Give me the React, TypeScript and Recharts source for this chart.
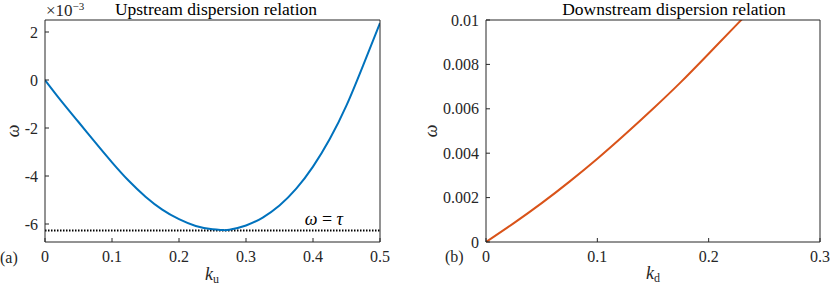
import React from "react";
import { LineChart, Line, XAxis, YAxis, ReferenceLine } from "recharts";

// upstream branch, omega in units of 1e-3
const kUp = [0, 0.025, 0.05, 0.075, 0.1, 0.125, 0.15, 0.175, 0.2, 0.225, 0.25, 0.265, 0.275, 0.3, 0.325, 0.35, 0.375, 0.4, 0.425, 0.45, 0.475, 0.5];
const omegaUp = [0, -0.9, -1.75, -2.6, -3.43, -4.2, -4.86, -5.4, -5.8, -6.08, -6.22, -6.25, -6.24, -6.06, -5.73, -5.23, -4.53, -3.61, -2.46, -1.06, 0.62, 2.37];
const tauE3 = -6.27;

// downstream branch
const kDown = [0, 0.025, 0.05, 0.075, 0.1, 0.125, 0.15, 0.175, 0.2, 0.225, 0.235];
const omegaDown = [0, 0.00085, 0.00175, 0.00272, 0.00375, 0.00485, 0.006, 0.0072, 0.00848, 0.00978, 0.0103];

const upXTicks = [0, 0.1, 0.2, 0.3, 0.4, 0.5];
const upYTicks = [-6, -4, -2, 0, 2];
const downXTicks = [0, 0.1, 0.2, 0.3];
const downYTicks = [0, 0.002, 0.004, 0.006, 0.008, 0.01];

const FONT = "'Liberation Serif', 'DejaVu Serif', serif";
const INK = "#262626";
const BLUE = "#0072BD";
const ORANGE = "#D95319";

const upData = kUp.map((k, i) => ({ k, w: omegaUp[i] }));
const downData = kDown.map((k, i) => ({ k, w: omegaDown[i] }));

const BottomTick = (p: any) => (
  <text x={p.x} y={p.y} dy="0.72em" textAnchor="middle" fill={INK} fontSize={16} fontFamily={FONT}>
    {String(p.payload.value)}
  </text>
);

const LeftTick = (p: any) => (
  <text x={p.x} y={p.y} dy="0.35em" textAnchor="end" fill={INK} fontSize={16} fontFamily={FONT}>
    {String(p.payload.value)}
  </text>
);

function Panel({ data, color, curve, xDomain, yDomain, xTicks, yTicks, margin, children }: any) {
  return (
    <LineChart width={415} height={286} data={data} margin={margin}>
      <XAxis xAxisId="b" dataKey="k" type="number" domain={xDomain} ticks={xTicks} interval={0}
        height={1} tickSize={-4} tickMargin={12} stroke={INK} tick={BottomTick} allowDataOverflow />
      <XAxis xAxisId="t" orientation="top" dataKey="k" type="number" domain={xDomain} ticks={xTicks}
        interval={0} height={1} tickSize={-4} tick={false} stroke={INK} allowDataOverflow />
      <YAxis yAxisId="l" type="number" domain={yDomain} ticks={yTicks} interval={0}
        width={1} tickSize={-4} tickMargin={11} stroke={INK} tick={LeftTick} allowDataOverflow />
      <YAxis yAxisId="r" orientation="right" type="number" domain={yDomain} ticks={yTicks}
        interval={0} width={1} tickSize={-4} tick={false} stroke={INK} allowDataOverflow />
      {children}
      <Line xAxisId="b" yAxisId="l" type={curve} dataKey="w" stroke={color} strokeWidth={2}
        dot={false} isAnimationActive={false} />
    </LineChart>
  );
}

const tauLabel = (p: any) => {
  const vb = p.viewBox;
  return (
    <text x={vb.x + vb.width - 37} y={vb.y - 5} textAnchor="end" fontFamily={FONT} fontSize={18} fill="#000">
      <tspan fontStyle="italic">ω</tspan>
      <tspan> = </tspan>
      <tspan fontStyle="italic">τ</tspan>
    </text>
  );
};

export default function App() {
  return (
    <div style={{ position: "absolute", left: 0, top: 0, width: 830, height: 286, background: "#fff", fontFamily: FONT }}>
      <div style={{ position: "absolute", left: 0, top: 0 }}>
        <Panel data={upData} color={BLUE} curve="natural" xDomain={[0, 0.5]} yDomain={[-6.75, 2.5]}
          xTicks={upXTicks} yTicks={upYTicks} margin={{ top: 19, right: 34, bottom: 43, left: 44 }}>
          <ReferenceLine xAxisId="b" yAxisId="l" y={tauE3} stroke="#000" strokeWidth={2}
            strokeDasharray="1.5 1.5" label={tauLabel} />
        </Panel>
      </div>
      <div style={{ position: "absolute", left: 415, top: 0 }}>
        <Panel data={downData} color={ORANGE} curve="natural" xDomain={[0, 0.3]} yDomain={[0, 0.01]}
          xTicks={downXTicks} yTicks={downYTicks} margin={{ top: 19, right: 9, bottom: 43, left: 70 }} />
      </div>
      <svg width={830} height={286} style={{ position: "absolute", left: 0, top: 0, pointerEvents: "none" }}
        fontFamily={FONT} fill={INK}>
        <text x={46} y={16} fontSize={17}>
          ×10<tspan fontSize={11} dy={-6}>−3</tspan>
        </text>
        <text x={216} y={15} fontSize={17.5} textAnchor="middle" fill="#000">Upstream dispersion relation</text>
        <text x={674} y={15} fontSize={17.5} textAnchor="middle" fill="#000">Downstream dispersion relation</text>
        <text x={13} y={131} fontSize={18} fontStyle="italic" textAnchor="middle" dominantBaseline="central"
          transform="rotate(-90 13 131)">ω</text>
        <text x={431} y={131} fontSize={18} fontStyle="italic" textAnchor="middle" dominantBaseline="central"
          transform="rotate(-90 431 131)">ω</text>
        <text x={212} y={280} fontSize={18} textAnchor="middle">
          <tspan fontStyle="italic">k</tspan><tspan fontSize={12} dy={3}>u</tspan>
        </text>
        <text x={653} y={279} fontSize={18} textAnchor="middle">
          <tspan fontStyle="italic">k</tspan><tspan fontSize={12} dy={3}>d</tspan>
        </text>
        <text x={0} y={263} fontSize={16}>(a)</text>
        <text x={445} y={262} fontSize={16}>(b)</text>
      </svg>
    </div>
  );
}
